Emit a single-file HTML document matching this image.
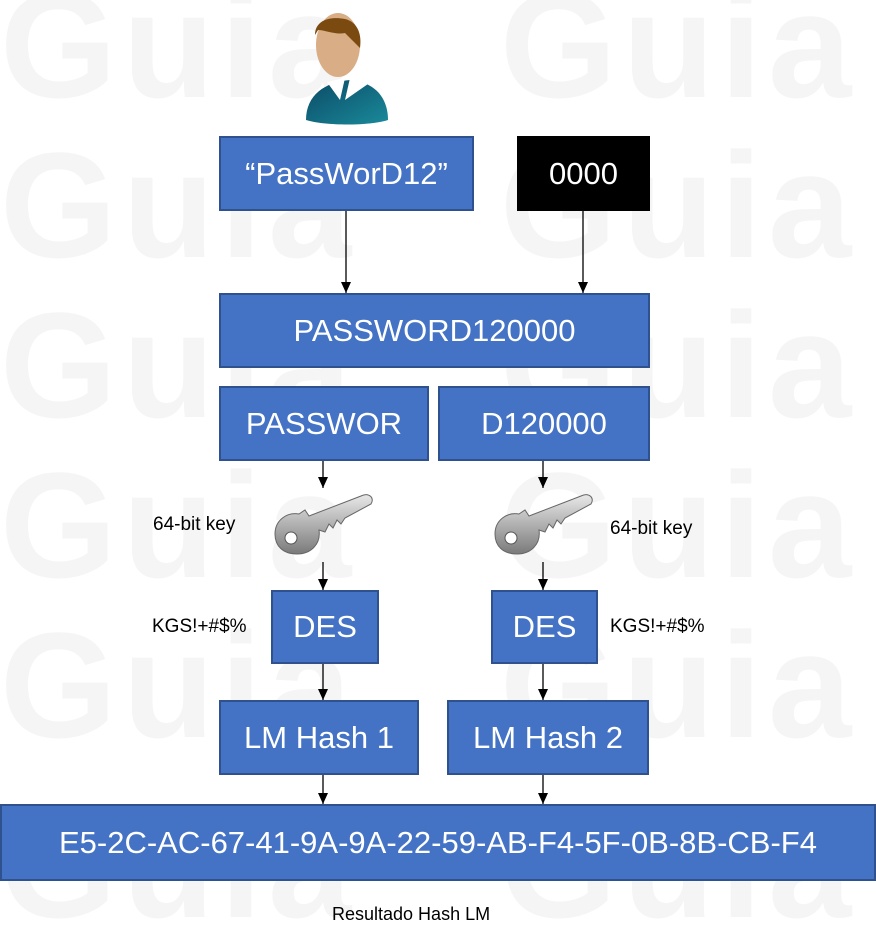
<!DOCTYPE html>
<html><head><meta charset="utf-8"><style>
body{margin:0;width:876px;height:948px;position:relative;background:#fff;overflow:hidden;font-family:"Liberation Sans",sans-serif}
.wm{position:absolute;font-weight:bold;font-size:150px;color:#f5f5f5;line-height:1;letter-spacing:6px}
.b{position:absolute;background:#4472c4;border:2px solid #2f528f;box-sizing:border-box;color:#fff;display:flex;align-items:center;justify-content:center;font-size:31px}
.t{position:absolute;font-size:19px;color:#000}
svg{position:absolute;left:0;top:0}
</style></head><body>
<div class="wm" style="left:0;top:-30px">Guia</div><div class="wm" style="left:500px;top:-30px">Guia</div>
<div class="wm" style="left:0;top:130px">Guia</div><div class="wm" style="left:500px;top:130px">Guia</div>
<div class="wm" style="left:0;top:290px">Guia</div><div class="wm" style="left:500px;top:290px">Guia</div>
<div class="wm" style="left:0;top:450px">Guia</div><div class="wm" style="left:500px;top:450px">Guia</div>
<div class="wm" style="left:0;top:610px">Guia</div><div class="wm" style="left:500px;top:610px">Guia</div>
<div class="wm" style="left:0;top:790px">Guia</div><div class="wm" style="left:500px;top:790px">Guia</div>

<svg width="876" height="948">
<defs><marker id="a" markerWidth="12" markerHeight="12" refX="11" refY="5" orient="auto" markerUnits="userSpaceOnUse"><path d="M0,0 L11,5 L0,10z" fill="#000"/></marker>
<linearGradient id="k" x1="0" y1="0" x2="0" y2="1"><stop offset="0" stop-color="#e8e8e8"/><stop offset="1" stop-color="#7a7a7a"/></linearGradient>
<linearGradient id="s" x1="0" y1="0" x2="1" y2="1"><stop offset="0" stop-color="#0b4a66"/><stop offset="1" stop-color="#1a8a9a"/></linearGradient>
<g id="key"><path d="M0,42 C0,28 12,20 24,22 L30,18 L34,24 L86,4 C94,0 100,6 96,12 L70,26 L66,32 L62,28 L58,36 L54,32 L50,40 L44,38 C46,52 36,62 22,62 C8,62 0,54 0,42z" fill="url(#k)" stroke="#666" stroke-width="1"/><circle cx="16" cy="46" r="6" fill="#fff" stroke="#555"/></g>
</defs>
<!-- person -->
<path d="M306,120 C306,95 325,82 350,80 C375,82 388,98 388,120 C370,126 325,126 306,120z" fill="url(#s)"/>
<path d="M327,82 L345,78 L340,100z M350,78 L368,84 L345,100z" fill="#fff"/>
<ellipse cx="338" cy="45" rx="22" ry="32" fill="#d9ad85"/>
<path d="M315,35 C315,20 330,16 345,19 C358,22 362,35 360,48 L352,40 L345,33 C335,35 325,30 318,30z" fill="#7a4a10"/>
<g stroke="#000" stroke-width="1.3" fill="none" marker-end="url(#a)">
<line x1="346" y1="211" x2="346" y2="293"/><line x1="583" y1="211" x2="583" y2="293"/>
<line x1="323" y1="460" x2="323" y2="488"/><line x1="543" y1="460" x2="543" y2="488"/>
<line x1="323" y1="562" x2="323" y2="590"/><line x1="543" y1="562" x2="543" y2="590"/>
<line x1="323" y1="663" x2="323" y2="700"/><line x1="543" y1="663" x2="543" y2="700"/>
<line x1="323" y1="774" x2="323" y2="804"/><line x1="543" y1="774" x2="543" y2="804"/>
</g>
<use href="#key" x="275" y="492"/><use href="#key" x="495" y="492"/>
</svg>

<div class="b" style="left:219px;top:136px;width:255px;height:75px">“PassWorD12”</div>
<div class="b" style="left:517px;top:136px;width:133px;height:75px;background:#000;border-color:#000">0000</div>
<div class="b" style="left:219px;top:293px;width:431px;height:75px">PASSWORD120000</div>
<div class="b" style="left:219px;top:386px;width:210px;height:75px">PASSWOR</div>
<div class="b" style="left:438px;top:386px;width:212px;height:75px">D120000</div>
<div class="b" style="left:271px;top:590px;width:108px;height:74px">DES</div>
<div class="b" style="left:491px;top:590px;width:107px;height:74px">DES</div>
<div class="b" style="left:219px;top:700px;width:200px;height:75px">LM Hash 1</div>
<div class="b" style="left:447px;top:700px;width:202px;height:75px">LM Hash 2</div>
<div class="b" style="left:0;top:804px;width:876px;height:77px">E5-2C-AC-67-41-9A-9A-22-59-AB-F4-5F-0B-8B-CB-F4</div>
<div class="t" style="left:153px;top:514px">64-bit key</div>
<div class="t" style="left:610px;top:518px">64-bit key</div>
<div class="t" style="left:152px;top:616px">KGS!+#$%</div>
<div class="t" style="left:610px;top:616px">KGS!+#$%</div>
<div class="t" style="left:332px;top:904px;font-size:18px">Resultado Hash LM</div>
</body></html>
